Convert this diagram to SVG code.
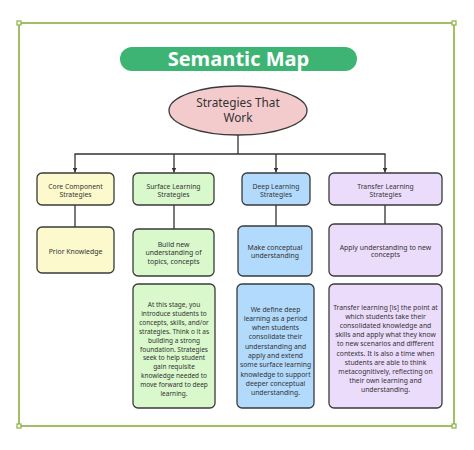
<svg xmlns="http://www.w3.org/2000/svg" width="474" height="450" viewBox="0 0 474 450">
<defs>
<marker id="arr" viewBox="0 0 10 10" refX="10" refY="5" markerWidth="5" markerHeight="5" orient="auto" markerUnits="userSpaceOnUse">
<path d="M0,0 L10,5 L0,10 z" fill="#333"/>
</marker>
<style>
.frame{fill:#fff;stroke:#8bb043;stroke-width:1.6}
.handle{fill:#fff;stroke:#8bb043;stroke-width:1.2}
.box{stroke:#3a3a3a;stroke-width:1.3}
.y{fill:#fcf9cc}
.g{fill:#d9f8cb}
.b{fill:#b2dafc}
.p{fill:#ecdcfb}
.t{font-family:"Noto Sans","Open Sans",sans-serif;font-size:6.8px;fill:#333;text-anchor:middle}
.t2{font-size:6.9px}
.ts{font-size:6.5px}
.td{font-size:6.8px}
.tt{font-size:6.8px}
.con{stroke:#333;stroke-width:1.3;fill:none}
</style>
</defs>
<rect width="474" height="450" fill="#fff"/>
<rect class="frame" x="19" y="23" width="435" height="403"/>
<rect class="handle" x="17" y="21" width="4" height="4"/>
<rect class="handle" x="452" y="21" width="4" height="4"/>
<rect class="handle" x="17" y="424" width="4" height="4"/>
<rect class="handle" x="452" y="424" width="4" height="4"/>

<g id="title">
<rect x="120" y="47" width="237" height="24" rx="12" fill="#3db474"/>
<text x="238.5" y="65.5" font-family="'Open Sans','Noto Sans',sans-serif" font-size="20" font-weight="bold" fill="#fff" text-anchor="middle">Semantic Map</text>
</g>

<g id="connectors">
<path class="con" d="M238,135 V154 M74.5,154 H385.5"/>
<path class="con" d="M75,154 V172.5" marker-end="url(#arr)"/>
<path class="con" d="M174,154 V172.5" marker-end="url(#arr)"/>
<path class="con" d="M276,154 V172.5" marker-end="url(#arr)"/>
<path class="con" d="M385,154 V172.5" marker-end="url(#arr)"/>
<path class="con" d="M75,205 V227 M174,205 V229 M276,205 V226 M385,205 V224"/>
</g>

<g id="root">
<ellipse cx="238" cy="110.5" rx="69" ry="24.5" fill="#f4cbcc" stroke="#3a3a3a" stroke-width="1.3"/>
<text x="238" y="107.3" font-family="'Noto Sans','Open Sans',sans-serif" font-size="11.8" fill="#333" text-anchor="middle">Strategies That</text>
<text x="238" y="121.8" font-family="'Noto Sans','Open Sans',sans-serif" font-size="11.8" fill="#333" text-anchor="middle">Work</text>
</g>

<g id="core">
<rect class="box y" x="37" y="173" width="77" height="32" rx="5"/>
<text class="t" x="75.5" y="188.5">Core Component</text>
<text class="t" x="75.5" y="196.5">Strategies</text>
</g>
<g id="surface">
<rect class="box g" x="133" y="173" width="81" height="32" rx="5"/>
<text class="t" x="173.5" y="188.5">Surface Learning</text>
<text class="t" x="173.5" y="196.5">Strategies</text>
</g>
<g id="deep">
<rect class="box b" x="242" y="173" width="68" height="32" rx="5"/>
<text class="t" x="276" y="188.5">Deep Learning</text>
<text class="t" x="276" y="196.5">Strategies</text>
</g>
<g id="transfer">
<rect class="box p" x="329" y="173" width="113" height="32" rx="5"/>
<text class="t" x="385.5" y="188.5">Transfer Learning</text>
<text class="t" x="385.5" y="196.5">Strategies</text>
</g>

<g id="prior">
<rect class="box y" x="37" y="227" width="77" height="46" rx="5"/>
<text class="t t2" x="75.5" y="253.5">Prior Knowledge</text>
</g>
<g id="build">
<rect class="box g" x="133" y="229" width="81" height="47" rx="5"/>
<text class="t t2" x="173.5" y="246.8">Build new</text>
<text class="t t2" x="173.5" y="255.3">understanding of</text>
<text class="t t2" x="173.5" y="263.8">topics, concepts</text>
</g>
<g id="make">
<rect class="box b" x="238" y="226" width="74" height="50" rx="5"/>
<text class="t t2" x="275" y="249.5">Make conceptual</text>
<text class="t t2" x="275" y="258">understanding</text>
</g>
<g id="apply">
<rect class="box p" x="329" y="224" width="113" height="52" rx="5"/>
<text class="t t2" x="385.5" y="249.5">Apply understanding to new</text>
<text class="t t2" x="385.5" y="257">concepts</text>
</g>

<g id="surface-desc">
<rect class="box g" x="133" y="284" width="82" height="124" rx="5"/>
<text class="t ts" x="174" y="307">At this stage, you</text>
<text class="t ts" x="174" y="315.9">introduce students to</text>
<text class="t ts" x="174" y="324.8">concepts, skills, and/or</text>
<text class="t ts" x="174" y="333.7">strategies. Think o it as</text>
<text class="t ts" x="174" y="342.6">building a strong</text>
<text class="t ts" x="174" y="351.5">foundation. Strategies</text>
<text class="t ts" x="174" y="360.4">seek to help student</text>
<text class="t ts" x="174" y="369.3">gain requisite</text>
<text class="t ts" x="174" y="378.2">knowledge needed to</text>
<text class="t ts" x="174" y="387.1">move forward to deep</text>
<text class="t ts" x="174" y="396">learning.</text>
</g>
<g id="deep-desc">
<rect class="box b" x="237" y="284" width="77" height="124" rx="5"/>
<text class="t td" x="275.5" y="311.5">We define deep</text>
<text class="t td" x="275.5" y="320.8">learning as a period</text>
<text class="t td" x="275.5" y="330.1">when students</text>
<text class="t td" x="275.5" y="339.4">consolidate their</text>
<text class="t td" x="275.5" y="348.7">understanding and</text>
<text class="t td" x="275.5" y="358">apply and extend</text>
<text class="t td" x="275.5" y="367.3">some surface learning</text>
<text class="t td" x="275.5" y="376.6">knowledge to support</text>
<text class="t td" x="275.5" y="385.9">deeper conceptual</text>
<text class="t td" x="275.5" y="395.2">understanding.</text>
</g>
<g id="transfer-desc">
<rect class="box p" x="329" y="284" width="113" height="124" rx="5"/>
<text class="t tt" x="385.5" y="309.5">Transfer learning [is] the point at</text>
<text class="t tt" x="385.5" y="318.7">which students take their</text>
<text class="t tt" x="385.5" y="327.9">consolidated knowledge and</text>
<text class="t tt" x="385.5" y="337.1">skills and apply what they know</text>
<text class="t tt" x="385.5" y="346.3">to new scenarios and different</text>
<text class="t tt" x="385.5" y="355.5">contexts. It is also a time when</text>
<text class="t tt" x="385.5" y="364.7">students are able to think</text>
<text class="t tt" x="385.5" y="373.9">metacognitively, reflecting on</text>
<text class="t tt" x="385.5" y="383.1">their own learning and</text>
<text class="t tt" x="385.5" y="392.3">understanding.</text>
</g>
</svg>
